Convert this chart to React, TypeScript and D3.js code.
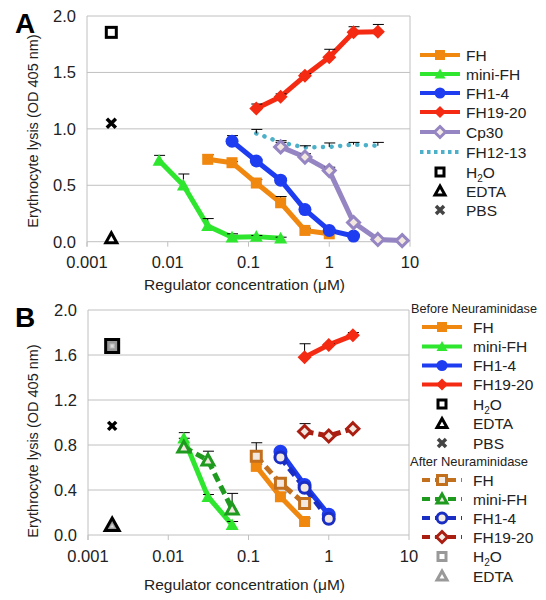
import React from "react";
import * as d3 from "d3";

// ---------- Panel A data ----------
const aFHx = [0.03125, 0.0625, 0.125, 0.25, 0.5, 1];
const aFHy = [0.73, 0.7, 0.52, 0.345, 0.1, 0.07];
const aFHe = [0.04, 0.01, 0.03, 0.055, 0.02, 0.01];

const aMiniX = [0.0078125, 0.015625, 0.03125, 0.0625, 0.125, 0.25];
const aMiniY = [0.72, 0.5, 0.14, 0.04, 0.045, 0.03];
const aMiniE = [0.045, 0.1, 0.065, 0.03, 0.01, 0.01];

const aF14x = [0.0625, 0.125, 0.25, 0.5, 1, 2];
const aF14y = [0.89, 0.715, 0.545, 0.285, 0.1, 0.05];
const aF14e = [0.05, 0.01, 0.01, 0.01, 0.01, 0.01];

const aF1920x = [0.125, 0.25, 0.5, 1, 2, 4];
const aF1920y = [1.18, 1.285, 1.47, 1.635, 1.855, 1.86];
const aF1920e = [0.04, 0.025, 0.02, 0.07, 0.05, 0.065];

const aCp30x = [0.25, 0.5, 1, 2, 4, 8];
const aCp30y = [0.84, 0.75, 0.63, 0.17, 0.02, 0.01];
const aCp30e = [0.04, 0.03, 0.03, 0.01, 0.01, 0.01];

const aF1213x = [0.125, 0.25, 0.5, 1, 2, 4];
const aF1213y = [0.96, 0.88, 0.835, 0.84, 0.86, 0.85];
const aF1213e = [0.035, 0.015, 0.015, 0.035, 0.02, 0.03];

const ctrlX = 0.002;
const aH2O = 1.855;
const aPBS = 1.05;
const aEDTA = 0.03;

// ---------- Panel B data ----------
const bFHx = [0.125, 0.25, 0.5];
const bFHy = [0.61, 0.34, 0.12];
const bFHe = [0.02, 0.035, 0.03];
const bFHaY = [0.7, 0.46, 0.28];
const bFHaE = [0.12, 0.03, 0.02];

const bMiniX = [0.015625, 0.03125, 0.0625];
const bMiniY = [0.86, 0.34, 0.09];
const bMiniE = [0.05, 0.02, 0.03];
const bMiniaY = [0.78, 0.665, 0.23];
const bMiniaE = [0.08, 0.08, 0.14];

const bF14x = [0.25, 0.5, 1];
const bF14y = [0.74, 0.445, 0.18];
const bF14e = [0.01, 0.01, 0.01];
const bF14aY = [0.69, 0.42, 0.145];
const bF14aE = [0.01, 0.01, 0.01];

const bF1920x = [0.5, 1, 2];
const bF1920y = [1.58, 1.69, 1.775];
const bF1920e = [0.12, 0.01, 0.025];
const bF1920aY = [0.92, 0.88, 0.945];
const bF1920aE = [0.07, 0.01, 0.01];

const bH2O = 1.68;
const bPBS = 0.97;
const bEDTA = 0.08;

const xTicks = [0.001, 0.01, 0.1, 1, 10];
const xTickLabels = ["0.001", "0.01", "0.1", "1", "10"];
const aYTicks = [0, 0.5, 1, 1.5, 2];
const bYTicks = [0, 0.4, 0.8, 1.2, 1.6, 2];

const FONT = "'Liberation Sans', Arial, sans-serif";

const C = {
  fh: "#F0870F",
  mini: "#2EE62E",
  f14: "#1E3CF0",
  f1920: "#F52A12",
  cp30: "#9585C2",
  f1213: "#4BB0C8",
  fhA: "#C2701E",
  miniA: "#1E9A1E",
  f14A: "#1A2EC4",
  f1920A: "#AA1E12",
  gray: "#999999",
  grid: "#c0c0c0",
};

type Shape = "square" | "triangle" | "circle" | "diamond" | "cross";

function Marker({
  shape,
  x,
  y,
  s,
  fill,
  stroke,
  sw = 0,
}: {
  shape: Shape;
  x: number;
  y: number;
  s: number;
  fill: string;
  stroke?: string;
  sw?: number;
}) {
  const h = s / 2;
  if (shape === "square")
    return <rect x={x - h} y={y - h} width={s} height={s} fill={fill} stroke={stroke} strokeWidth={sw} />;
  if (shape === "circle") return <circle cx={x} cy={y} r={h} fill={fill} stroke={stroke} strokeWidth={sw} />;
  if (shape === "triangle")
    return (
      <path
        d={`M${x},${y - h}L${x + h},${y + h * 0.8}L${x - h},${y + h * 0.8}Z`}
        fill={fill}
        stroke={stroke}
        strokeWidth={sw}
        strokeLinejoin="miter"
      />
    );
  if (shape === "diamond")
    return (
      <path d={`M${x},${y - h}L${x + h},${y}L${x},${y + h}L${x - h},${y}Z`} fill={fill} stroke={stroke} strokeWidth={sw} />
    );
  return (
    <path
      d={`M${x - h},${y - h}L${x + h},${y + h}M${x - h},${y + h}L${x + h},${y - h}`}
      stroke={stroke || fill}
      strokeWidth={sw || 3.5}
      fill="none"
    />
  );
}

type Series = {
  xs: number[];
  ys: number[];
  es: number[];
  color: string;
  shape: Shape;
  size: number;
  dash?: string;
  lw?: number;
  hollow?: boolean;
  noMarker?: boolean;
  dotted?: boolean;
};

function Panel({
  top,
  bottom,
  left,
  right,
  yTicks,
  label,
  series,
  controls,
  yTitleCenter,
  xTitleY,
}: {
  top: number;
  bottom: number;
  left: number;
  right: number;
  yTicks: number[];
  label: string;
  series: Series[];
  controls: React.ReactNode;
  yTitleCenter: number;
  xTitleY: number;
}) {
  const x = d3.scaleLog().domain([0.001, 10]).range([left, right]);
  const y = d3.scaleLinear().domain([0, 2]).range([bottom, top]);
  const line = d3
    .line<[number, number]>()
    .x((d) => x(d[0]))
    .y((d) => y(d[1]));
  const fmt = d3.format(".1f");
  return (
    <g>
      {yTicks.map((t) => (
        <g key={t}>
          <line x1={left} x2={right} y1={y(t)} y2={y(t)} stroke={C.grid} strokeWidth={1} />
          <text x={left - 11} y={y(t) + 6} textAnchor="end" fontSize={16.5} fontFamily={FONT} fill="#222">
            {fmt(t)}
          </text>
        </g>
      ))}
      <line x1={left} x2={left} y1={top} y2={bottom + 5} stroke={C.grid} />
      <line x1={right} x2={right} y1={top} y2={bottom} stroke={C.grid} />
      {xTicks.map((t, i) => (
        <g key={t}>
          <line x1={x(t)} x2={x(t)} y1={bottom} y2={bottom + 5} stroke={C.grid} />
          <text x={x(t)} y={bottom + 26.5} textAnchor="middle" fontSize={16.5} fontFamily={FONT} fill="#222">
            {xTickLabels[i]}
          </text>
        </g>
      ))}
      <text
        transform={`translate(38,${yTitleCenter}) rotate(-90)`}
        textAnchor="middle"
        fontSize={14.5}
        fontFamily={FONT}
        fill="#222"
      >
        Erythrocyte lysis (OD 405 nm)
      </text>
      <text x={(left + right) / 2 - 4} y={xTitleY} textAnchor="middle" fontSize={15.5} fontFamily={FONT} fill="#222">
        Regulator concentration (μM)
      </text>
      <text x={15} y={top + 17} fontSize={28} fontWeight="bold" fontFamily={FONT} fill="#000">
        {label}
      </text>
      {series.map((s, i) => (
        <path
          key={"l" + i}
          d={line(s.xs.map((v, j) => [v, s.ys[j]] as [number, number])) || ""}
          fill="none"
          stroke={s.color}
          strokeWidth={s.lw ?? 5}
          strokeDasharray={s.dash}
          strokeLinecap={s.dotted ? "round" : "butt"}
          strokeLinejoin="round"
        />
      ))}
      {series.map((s, i) =>
        s.xs.map((v, j) => {
          const px = x(v);
          const y0 = y(s.ys[j]);
          const y1 = y(s.ys[j] + s.es[j]);
          return (
            <g key={"e" + i + "-" + j}>
              <line x1={px} x2={px} y1={y0} y2={y1} stroke="#000" strokeWidth={1} />
              <line x1={px - 5} x2={px + 6} y1={y1} y2={y1} stroke="#000" strokeWidth={1} />
            </g>
          );
        })
      )}
      {series.map((s, i) =>
        s.noMarker
          ? null
          : s.xs.map((v, j) => (
              <Marker
                key={"m" + i + "-" + j}
                shape={s.shape}
                x={x(v)}
                y={y(s.ys[j])}
                s={s.hollow ? s.size - 3 : s.size}
                fill={s.hollow ? "#f2e8e0" : s.color}
                stroke={s.hollow ? s.color : undefined}
                sw={s.hollow ? 3 : 0}
              />
            ))
      )}
      {controls}
    </g>
  );
}

function LegendRow({
  x0,
  x1,
  tx,
  y,
  color,
  shape,
  size,
  label,
  dash,
  hollow,
  noMarker,
  lineless,
  mstroke,
}: {
  x0: number;
  x1: number;
  tx: number;
  y: number;
  color: string;
  shape: Shape;
  size: number;
  label: React.ReactNode;
  dash?: string;
  hollow?: boolean;
  noMarker?: boolean;
  lineless?: boolean;
  mstroke?: number;
}) {
  const cx = (x0 + x1) / 2;
  const open = hollow || !!mstroke;
  return (
    <g>
      {!lineless && <line x1={x0} x2={x1} y1={y} y2={y} stroke={color} strokeWidth={4} strokeDasharray={dash} />}
      {!noMarker && (
        <Marker
          shape={shape}
          x={cx}
          y={y}
          s={hollow ? size - 3 : size}
          fill={open ? (hollow ? "#f4ece6" : "#fff") : color}
          stroke={open ? color : undefined}
          sw={mstroke ?? (hollow ? 3 : 0)}
        />
      )}
      <text x={tx} y={y + 5.5} fontSize={15.5} fontFamily={FONT} fill="#222">
        {label}
      </text>
    </g>
  );
}

const H2OLabel = (
  <>
    H<tspan fontSize={10} dy={4}>2</tspan>
    <tspan dy={-4}>O</tspan>
  </>
);

export default function App() {
  const aTop = 16,
    aBottom = 241.7,
    aLeft = 87,
    aRight = 410;
  const bTop = 310,
    bBottom = 535,
    bLeft = 88,
    bRight = 409;
  const xa = d3.scaleLog().domain([0.001, 10]).range([aLeft, aRight]);
  const ya = d3.scaleLinear().domain([0, 2]).range([aBottom, aTop]);
  const xb = d3.scaleLog().domain([0.001, 10]).range([bLeft, bRight]);
  const yb = d3.scaleLinear().domain([0, 2]).range([bBottom, bTop]);

  const seriesA: Series[] = [
    { xs: aF1213x, ys: aF1213y, es: aF1213e, color: C.f1213, shape: "circle", size: 0, dash: "0.1,8.5", lw: 4.5, noMarker: true, dotted: true },
    { xs: aFHx, ys: aFHy, es: aFHe, color: C.fh, shape: "square", size: 11 },
    { xs: aMiniX, ys: aMiniY, es: aMiniE, color: C.mini, shape: "triangle", size: 13 },
    { xs: aF14x, ys: aF14y, es: aF14e, color: C.f14, shape: "circle", size: 13 },
    { xs: aF1920x, ys: aF1920y, es: aF1920e, color: C.f1920, shape: "diamond", size: 14 },
    { xs: aCp30x, ys: aCp30y, es: aCp30e, color: C.cp30, shape: "diamond", size: 15, hollow: true },
  ];

  const seriesB: Series[] = [
    { xs: bFHx, ys: bFHy, es: bFHe, color: C.fh, shape: "square", size: 11 },
    { xs: bMiniX, ys: bMiniY, es: bMiniE, color: C.mini, shape: "triangle", size: 13 },
    { xs: bF14x, ys: bF14y, es: bF14e, color: C.f14, shape: "circle", size: 14 },
    { xs: bF1920x, ys: bF1920y, es: bF1920e, color: C.f1920, shape: "diamond", size: 14 },
    { xs: bFHx, ys: bFHaY, es: bFHaE, color: C.fhA, shape: "square", size: 13, dash: "9,5", hollow: true },
    { xs: bMiniX, ys: bMiniaY, es: bMiniaE, color: C.miniA, shape: "triangle", size: 15, dash: "9,5", hollow: true },
    { xs: bF14x, ys: bF14aY, es: bF14aE, color: C.f14A, shape: "circle", size: 14, dash: "9,5", hollow: true },
    { xs: bF1920x, ys: bF1920aY, es: bF1920aE, color: C.f1920A, shape: "diamond", size: 15, dash: "9,5", hollow: true },
  ];

  const controlsA = (
    <g>
      <Marker shape="square" x={xa(ctrlX)} y={ya(aH2O)} s={10} fill="#fff" stroke="#000" sw={3} />
      <Marker shape="cross" x={xa(ctrlX)} y={ya(aPBS)} s={9} fill="#000" stroke="#000" sw={3.5} />
      <Marker shape="triangle" x={xa(ctrlX)} y={ya(aEDTA)} s={11} fill="#fff" stroke="#000" sw={3} />
    </g>
  );
  const controlsB = (
    <g>
      <Marker shape="square" x={xb(ctrlX)} y={yb(bH2O)} s={13} fill="#999" stroke="#000" sw={3} />
      <Marker shape="square" x={xb(ctrlX)} y={yb(bH2O)} s={4} fill="#ddd" stroke="#bbb" sw={1} />
      <Marker shape="cross" x={xb(ctrlX)} y={yb(bPBS)} s={8} fill="#000" stroke="#000" sw={3.5} />
      <Marker shape="triangle" x={xb(ctrlX)} y={yb(bEDTA) - 1} s={14} fill="#999" stroke="#000" sw={3} />
      <Marker shape="triangle" x={xb(ctrlX)} y={yb(bEDTA)} s={4} fill="#ddd" stroke="#bbb" sw={1} />
    </g>
  );

  const la = { x0: 420, x1: 460, tx: 466 };
  const lb = { x0: 422, x1: 462, tx: 473 };
  const rowsA = [55, 74, 93, 112, 132, 152, 172, 191, 210];
  const rowsB = [327, 346.5, 365.5, 384.5, 404, 423.5, 443, 480, 499, 518, 537, 556.5, 576];

  return (
    <svg width={546} height={600} style={{ position: "absolute", left: 0, top: 0, background: "#fff" }}>
      <Panel top={aTop} bottom={aBottom} left={aLeft} right={aRight} yTicks={aYTicks} label="A" series={seriesA} controls={controlsA} yTitleCenter={131} xTitleY={290} />
      <Panel top={bTop} bottom={bBottom} left={bLeft} right={bRight} yTicks={bYTicks} label="B" series={seriesB} controls={controlsB} yTitleCenter={441} xTitleY={590} />

      {/* Legend A */}
      <LegendRow {...la} y={rowsA[0]} color={C.fh} shape="square" size={10} label="FH" />
      <LegendRow {...la} y={rowsA[1]} color={C.mini} shape="triangle" size={11} label="mini-FH" />
      <LegendRow {...la} y={rowsA[2]} color={C.f14} shape="circle" size={11} label="FH1-4" />
      <LegendRow {...la} y={rowsA[3]} color={C.f1920} shape="diamond" size={12} label="FH19-20" />
      <LegendRow {...la} y={rowsA[4]} color={C.cp30} shape="diamond" size={14} hollow label="Cp30" />
      <LegendRow {...la} y={rowsA[5]} color={C.f1213} shape="circle" size={0} noMarker dash="3.5,3.5" label="FH12-13" />
      <LegendRow {...la} y={rowsA[6]} color="#000" shape="square" size={8} lineless label={H2OLabel} mstroke={3} />
      <LegendRow {...la} y={rowsA[7]} color="#000" shape="triangle" size={10} lineless label="EDTA" mstroke={3} />
      <LegendRow {...la} y={rowsA[8]} color="#444" shape="cross" size={8} lineless label="PBS" />

      {/* Legend B */}
      <text x={411} y={313} fontSize={13} fontFamily={FONT} fill="#222" textLength={126} lengthAdjust="spacingAndGlyphs">
        Before Neuraminidase
      </text>
      <LegendRow {...lb} y={rowsB[0]} color={C.fh} shape="square" size={10} label="FH" />
      <LegendRow {...lb} y={rowsB[1]} color={C.mini} shape="triangle" size={11} label="mini-FH" />
      <LegendRow {...lb} y={rowsB[2]} color={C.f14} shape="circle" size={11} label="FH1-4" />
      <LegendRow {...lb} y={rowsB[3]} color={C.f1920} shape="diamond" size={12} label="FH19-20" />
      <LegendRow {...lb} y={rowsB[4]} color="#000" shape="square" size={8} lineless label={H2OLabel} mstroke={3} />
      <LegendRow {...lb} y={rowsB[5]} color="#000" shape="triangle" size={10} lineless label="EDTA" mstroke={3} />
      <LegendRow {...lb} y={rowsB[6]} color="#444" shape="cross" size={8} lineless label="PBS" />
      <text x={410} y={466} fontSize={13} fontFamily={FONT} fill="#222" textLength={118} lengthAdjust="spacingAndGlyphs">
        After Neuraminidase
      </text>
      <LegendRow {...lb} y={rowsB[7]} color={C.fhA} shape="square" size={12} dash="8,5" hollow label="FH" />
      <LegendRow {...lb} y={rowsB[8]} color={C.miniA} shape="triangle" size={13} dash="8,5" hollow label="mini-FH" />
      <LegendRow {...lb} y={rowsB[9]} color={C.f14A} shape="circle" size={13} dash="8,5" hollow label="FH1-4" />
      <LegendRow {...lb} y={rowsB[10]} color={C.f1920A} shape="diamond" size={14} dash="8,5" hollow label="FH19-20" />
      <LegendRow {...lb} y={rowsB[11]} color={C.gray} shape="square" size={8} lineless label={H2OLabel} mstroke={3} />
      <LegendRow {...lb} y={rowsB[12]} color={C.gray} shape="triangle" size={10} lineless label="EDTA" mstroke={3} />
    </svg>
  );
}
